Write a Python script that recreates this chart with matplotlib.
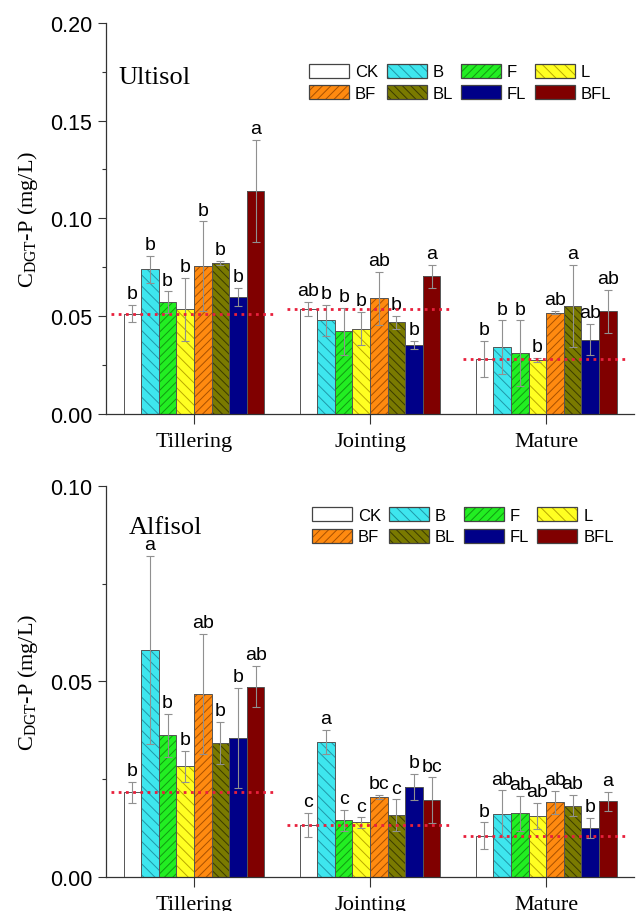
import matplotlib
matplotlib.use('Agg')
import matplotlib.pyplot as plt
import numpy as np
from matplotlib.patches import Patch
from matplotlib.legend_handler import HandlerTuple
from matplotlib.ticker import MultipleLocator

treatments = ['CK', 'B', 'F', 'L', 'BF', 'BL', 'FL', 'BFL']
stages = ['Tillering', 'Jointing', 'Mature']

# Ultisol, rows = stages, cols = treatments
ult_mean = [[0.0513, 0.0739, 0.0572, 0.0534, 0.0754, 0.0771, 0.0600, 0.1140],
            [0.0537, 0.0478, 0.0423, 0.0435, 0.0592, 0.0469, 0.0353, 0.0703],
            [0.0281, 0.0341, 0.0311, 0.0276, 0.0517, 0.0551, 0.0380, 0.0524]]
ult_err = [[0.0045, 0.0070, 0.0055, 0.0160, 0.0230, 0.0010, 0.0046, 0.0260],
           [0.0035, 0.0080, 0.0120, 0.0085, 0.0136, 0.0034, 0.0022, 0.0060],
           [0.0094, 0.0137, 0.0167, 0.0010, 0.0008, 0.0210, 0.0080, 0.0110]]
ult_letters = [['b', 'b', 'b', 'b', 'b', 'b', 'b', 'a'],
               ['ab', 'b', 'b', 'b', 'ab', 'b', 'b', 'a'],
               ['b', 'b', 'b', 'b', 'ab', 'a', 'ab', 'ab']]

# Alfisol
alf_mean = [[0.0217, 0.0580, 0.0363, 0.0283, 0.0468, 0.0343, 0.0356, 0.0487],
            [0.0134, 0.0346, 0.0145, 0.0140, 0.0206, 0.0159, 0.0231, 0.0197],
            [0.0106, 0.0162, 0.0163, 0.0157, 0.0191, 0.0183, 0.0125, 0.0194]]
alf_err = [[0.0027, 0.0240, 0.0055, 0.0040, 0.0153, 0.0053, 0.0127, 0.0053],
           [0.0030, 0.0030, 0.0028, 0.0013, 0.0005, 0.0040, 0.0033, 0.0058],
           [0.0034, 0.0060, 0.0044, 0.0033, 0.0030, 0.0027, 0.0026, 0.0025]]
alf_letters = [['b', 'a', 'b', 'b', 'ab', 'b', 'b', 'ab'],
               ['c', 'a', 'c', 'c', 'bc', 'c', 'b', 'bc'],
               ['b', 'ab', 'ab', 'ab', 'ab', 'ab', 'b', 'a']]

colors = ['#ffffff', '#3ee6ee', '#22ee22', '#ffff22', '#ff8a10', '#7a7a00', '#000088', '#800000']
hatchcols = ['#ffffff', '#2098a8', '#109a10', '#b8a800', '#a85000', '#3a3a00', '#000088', '#800000']
hatches = ['', '\\\\\\', '////', '\\\\\\', '////', '\\\\\\\\', '', '']

plt.rcParams['hatch.linewidth'] = 0.7
sans = ['Liberation Sans', 'DejaVu Sans']
serif = ['Liberation Serif', 'DejaVu Serif']

fig = plt.figure(figsize=(6.38, 9.12), dpi=100)
ax1 = fig.add_axes([0.166, 0.545, 0.828, 0.429])
ax2 = fig.add_axes([0.166, 0.037, 0.828, 0.4293])

w = 0.1
x = np.arange(len(stages))


def panel(ax, mean, err, letters, ymax, name, name_xy, leg_anchor):
    mean = np.array(mean)
    err = np.array(err)
    for j, t in enumerate(treatments):
        xs = x - 0.35 + j * w
        ax.bar(xs, mean[:, j], w, color=colors[j], edgecolor=hatchcols[j],
               hatch=hatches[j], linewidth=0, zorder=2)
        ax.bar(xs, mean[:, j], w, fill=False, edgecolor='#555555',
               linewidth=0.7, zorder=3)
        ax.errorbar(xs, mean[:, j], yerr=err[:, j], fmt='none', ecolor='#909090',
                    elinewidth=0.8, capsize=3, capthick=0.8, zorder=4)
        for i in range(len(stages)):
            ax.annotate(letters[i][j], (xs[i], mean[i, j] + err[i, j]),
                        xytext=(0, 2), textcoords='offset points',
                        ha='center', va='bottom', fontsize=14, family=sans, zorder=5)
    for i in range(len(stages)):
        ax.plot([x[i] - 0.47, x[i] + 0.47], [mean[i, 0], mean[i, 0]], color='#e8203c',
                linestyle=(0, (1, 1.6)), linewidth=2, zorder=6)
    ax.set_xlim(-0.5, 2.5)
    ax.set_ylim(0, ymax)
    ax.set_xticks(x)
    ax.set_xticklabels(stages, family=serif, fontsize=16)
    ax.yaxis.set_major_locator(MultipleLocator(0.05))
    ax.yaxis.set_minor_locator(MultipleLocator(0.025))
    ax.yaxis.set_major_formatter(matplotlib.ticker.FormatStrFormatter('%.2f'))
    for lab in ax.get_yticklabels():
        lab.set_family(sans)
        lab.set_fontsize(15.5)
    ax.tick_params(axis='y', which='major', length=6, width=0.8, pad=4, color='#333333')
    ax.tick_params(axis='y', which='minor', length=3, width=0.8, color='#333333')
    ax.tick_params(axis='x', length=7, width=0.8, pad=6, color='#333333')
    for s in ['top', 'right']:
        ax.spines[s].set_visible(False)
    for s in ['left', 'bottom']:
        ax.spines[s].set_color('#333333')
        ax.spines[s].set_linewidth(0.9)
    ax.set_ylabel(r'C$_\mathregular{DGT}$-P (mg/L)', family=serif, fontsize=16)
    ax.yaxis.set_label_coords(-0.125, 0.5)
    ax.text(name_xy[0], name_xy[1], name, transform=ax.transAxes, family=serif,
            fontsize=19, va='center', ha='left')
    handles = [(Patch(facecolor=colors[j], edgecolor=hatchcols[j], hatch=hatches[j], linewidth=0),
                Patch(fill=False, edgecolor='#444444', linewidth=0.9))
               for j in range(len(treatments))]
    order = [0, 4, 1, 5, 2, 6, 3, 7]
    ax.legend([handles[k] for k in order], [treatments[k] for k in order],
              handler_map={tuple: HandlerTuple(ndivide=1, pad=0)},
              ncol=4, loc='upper left', bbox_to_anchor=leg_anchor,
              frameon=False, prop={'family': sans, 'size': 12},
              handlelength=2.4, handleheight=0.9, handletextpad=0.35,
              columnspacing=0.5, labelspacing=0.35, borderpad=0, borderaxespad=0)


panel(ax1, ult_mean, ult_err, ult_letters, 0.2, 'Ultisol', (0.023, 0.862), (0.385, 0.895))
panel(ax2, alf_mean, alf_err, alf_letters, 0.1, 'Alfisol', (0.044, 0.894), (0.39, 0.945))

fig.savefig('out.png', dpi=100)
